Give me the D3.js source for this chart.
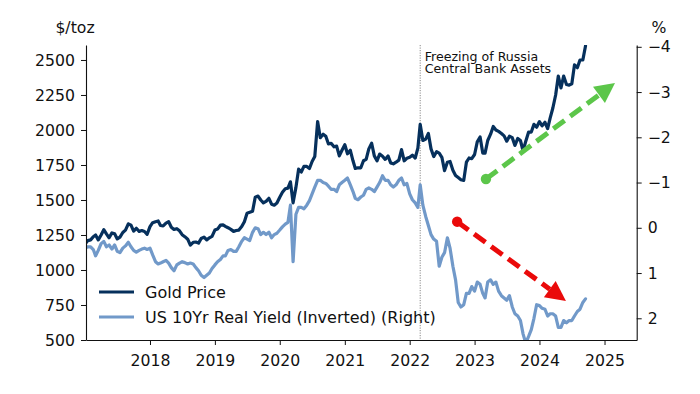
<!DOCTYPE html>
<html>
<head>
<meta charset="utf-8">
<script src="https://cdn.jsdelivr.net/npm/d3@7"></script>
<style>
  html, body { margin: 0; padding: 0; background: #fff; }
  svg { display: block; font-family: "DejaVu Sans", sans-serif; }
</style>
</head>
<body>
<div id="chart"></div>
<script>
// gold price, $/toz, sampled on the 1st and 16th of each month, Jan 2017 - Sep 2024
const gold = [
  1185,1210, 1215,1238, 1250,1215, 1250,1288, 1258,1230, 1265,1258, 1222,1235, 1268,1285, 1330,1320, 1278,1298, 1276,1282, 1275,1255,
  1310,1338, 1345,1350, 1318,1315, 1335,1345, 1305,1290, 1295,1280, 1252,1238, 1220,1178, 1198,1200, 1192,1225, 1235,1215, 1230,1240,
  1285,1292, 1320,1322, 1312,1302, 1290,1276, 1282,1285, 1310,1345, 1405,1412, 1420,1520, 1528,1500, 1480,1490, 1512,1470, 1463,1478,
  1520,1555, 1580,1585, 1630,1480, 1590,1720, 1700,1740, 1740,1725, 1775,1810, 2060,1945, 1970,1955, 1900,1905, 1880,1885, 1815,1855,
  1895,1830, 1855,1780, 1725,1730, 1730,1780, 1790,1865, 1905,1815, 1780,1828, 1812,1790, 1815,1765, 1758,1770, 1785,1860, 1780,1798,
  1805,1820, 1800,1870, 2040,1925, 1935,1975, 1865,1810, 1845,1835, 1805,1710, 1770,1775, 1712,1675, 1660,1645, 1640,1770, 1800,1795,
  1825,1915, 1950,1835, 1835,1925, 1970,2025, 2000,1990, 1975,1958, 1920,1955, 1945,1890, 1940,1925, 1850,1920, 1985,1985, 2040,2020,
  2060,2030, 2055,2010, 2085,2155, 2250,2385, 2300,2385, 2325,2320, 2330,2465, 2445,2500, 2500,2600
];

// US 10yr real yield, %, same dates
const realYield = [
  0.45,0.42, 0.42,0.48, 0.62,0.50, 0.35,0.30, 0.42,0.38, 0.47,0.38, 0.52,0.55, 0.45,0.40, 0.32,0.42, 0.50,0.54, 0.50,0.47, 0.45,0.48,
  0.45,0.60, 0.75,0.80, 0.78,0.75, 0.72,0.78, 0.88,0.95, 0.82,0.78, 0.75,0.77, 0.80,0.78, 0.80,0.88, 0.95,1.05, 1.10,1.05, 1.00,0.90,
  0.82,0.75, 0.70,0.62, 0.62,0.50, 0.48,0.52, 0.52,0.42, 0.30,0.22, 0.25,0.28, 0.10,0.00, 0.02,0.15, 0.10,0.15, 0.10,0.22, 0.15,0.12,
  0.05,-0.02, -0.08,-0.12, -0.50,0.75, -0.30,-0.45, -0.45,-0.42, -0.50,-0.60, -0.75,-0.90, -1.05,-1.05, -1.00,-0.98, -0.92,-0.85, -0.85,-0.80, -0.95,-1.00,
  -1.05,-1.10, -0.95,-0.80, -0.65,-0.62, -0.68,-0.72, -0.85,-0.88, -0.85,-0.80, -0.90,-1.00, -1.15,-1.05, -1.05,-0.95, -0.90,-0.95, -1.05,-1.10, -0.95,-0.98,
  -0.75,-0.62, -0.55,-0.45, -0.95,-0.50, -0.25,-0.05, 0.15,0.25, 0.30,0.85, 0.65,0.55, 0.22,0.45, 0.85,1.15, 1.65,1.75, 1.70,1.45, 1.45,1.30,
  1.40,1.20, 1.25,1.45, 1.55,1.20, 1.15,1.25, 1.20,1.40, 1.50,1.55, 1.60,1.50, 1.75,1.90, 1.95,2.05, 2.35,2.55, 2.40,2.25, 2.00,1.70,
  1.72,1.78, 1.80,1.95, 1.90,1.90, 1.95,2.20, 2.20,2.05, 2.10,2.05, 2.05,1.95, 1.85,1.80, 1.65,1.57
];

const seriesNames = ['Gold Price', 'US 10Yr Real Yield (Inverted) (Right)'];
const leftTicks = [500, 750, 1000, 1250, 1500, 1750, 2000, 2250, 2500];
const rightTicks = [-4, -3, -2, -1, 0, 1, 2];
const eventDate = '2022-03-01';
const eventLabel = ['Freezing of Russia', 'Central Bank Assets'];
// arrows in [date, gold price] coordinates
const greenArrow = [['2023-03-06', 1650], ['2025-03-01', 2336]];
const redArrow = [['2022-09-25', 1345], ['2024-05-29', 779]];

const width = 700, height = 394;
const margin = { top: 45, right: 63.3, bottom: 54, left: 86 };
const navy = '#06305c', lightBlue = '#7199c9';

const parse = d3.utcParse('%Y-%m-%d');
const dates = [];
for (let y = 2017; y <= 2024; y++)
  for (let m = 0; m < 12; m++)
    for (const day of [1, 16])
      if (dates.length < gold.length) dates.push(new Date(Date.UTC(y, m, day)));

const x = d3.scaleUtc()
  .domain([parse('2017-01-06'), parse('2025-07-01')])
  .range([margin.left, width - margin.right]);
const yLeft = d3.scaleLinear().domain([500, 2607]).range([height - margin.bottom, margin.top]);
const yRight = d3.scaleLinear().domain([2.48, -4.04]).range([height - margin.bottom, margin.top]);

const svg = d3.select('#chart').append('svg')
  .attr('width', width).attr('height', height)
  .attr('viewBox', `0 0 ${width} ${height}`);

svg.append('defs').append('clipPath').attr('id', 'plot')
  .append('rect')
  .attr('x', margin.left).attr('y', margin.top)
  .attr('width', width - margin.left - margin.right)
  .attr('height', height - margin.top - margin.bottom);

// event marker
const ex = x(parse(eventDate));
svg.append('line')
  .attr('x1', ex).attr('x2', ex)
  .attr('y1', margin.top).attr('y2', height - margin.bottom)
  .attr('stroke', '#888').attr('stroke-width', 1)
  .attr('stroke-dasharray', '1.2,1.3');

svg.append('text')
  .attr('x', ex + 4.5).attr('y', 60.5)
  .attr('font-size', 12.6).attr('fill', '#111')
  .selectAll('tspan').data(eventLabel).enter()
  .append('tspan')
  .attr('x', ex + 4.5)
  .attr('dy', (d, i) => i === 0 ? 0 : 12.8)
  .text(d => d);

// series
const lines = svg.append('g').attr('clip-path', 'url(#plot)');
lines.append('path')
  .datum(gold)
  .attr('fill', 'none').attr('stroke', navy).attr('stroke-width', 3.2)
  .attr('stroke-linejoin', 'round').attr('stroke-linecap', 'round')
  .attr('d', d3.line().x((d, i) => x(dates[i])).y(d => yLeft(d)));
lines.append('path')
  .datum(realYield)
  .attr('fill', 'none').attr('stroke', lightBlue).attr('stroke-width', 3.2)
  .attr('stroke-linejoin', 'round').attr('stroke-linecap', 'round')
  .attr('d', d3.line().x((d, i) => x(dates[i])).y(d => yRight(d)));

// axes
const fontSize = 15.7;
const axisBottom = svg.append('g')
  .attr('transform', `translate(0,${height - margin.bottom})`)
  .call(d3.axisBottom(x).ticks(d3.utcYear.every(1)).tickFormat(d3.utcFormat('%Y')).tickSize(5).tickPadding(5).tickSizeOuter(0));
const axisLeft = svg.append('g')
  .attr('transform', `translate(${margin.left},0)`)
  .call(d3.axisLeft(yLeft).tickValues(leftTicks).tickFormat(d3.format('d')).tickSize(5).tickPadding(6).tickSizeOuter(0));
const axisRight = svg.append('g')
  .attr('transform', `translate(${width - margin.right},0)`)
  .call(d3.axisRight(yRight).tickValues(rightTicks).tickFormat(d3.format('d')).tickSize(5).tickPadding(6).tickSizeOuter(0));

[axisBottom, axisLeft, axisRight].forEach(g => {
  g.selectAll('text').attr('font-size', fontSize).attr('fill', '#111').attr('font-family', '"DejaVu Sans", sans-serif');
  g.selectAll('line').attr('stroke', '#111').attr('stroke-width', 1);
  g.select('.domain').attr('stroke', '#111').attr('stroke-width', 1.1);
});
axisBottom.selectAll('text').attr('dy', '1em');

svg.append('text').attr('x', 75).attr('y', 33)
  .attr('text-anchor', 'middle').attr('font-size', fontSize).attr('fill', '#111')
  .text('$/toz');
svg.append('text').attr('x', 659).attr('y', 33)
  .attr('text-anchor', 'middle').attr('font-size', fontSize).attr('fill', '#111')
  .text('%');

// legend
const legend = svg.append('g')
  .selectAll('g').data(seriesNames).enter()
  .append('g')
  .attr('transform', (d, i) => `translate(99,${292 + i * 25})`);
legend.append('line')
  .attr('x1', 0).attr('x2', 35)
  .attr('stroke', (d, i) => i === 0 ? navy : lightBlue)
  .attr('stroke-width', 3.2);
legend.append('text')
  .attr('x', 46).attr('y', 5.7)
  .attr('font-size', 16).attr('fill', '#111')
  .text(d => d);

// trend arrows
function drawArrow(pts, color) {
  const p0 = [x(parse(pts[0][0])), yLeft(pts[0][1])];
  const p1 = [x(parse(pts[1][0])), yLeft(pts[1][1])];
  const dx = p1[0] - p0[0], dy = p1[1] - p0[1];
  const len = Math.hypot(dx, dy);
  const ux = dx / len, uy = dy / len;
  const headLen = 20, headHalf = 10;
  const base = [p1[0] - headLen * ux, p1[1] - headLen * uy];
  const g = svg.append('g');
  g.append('line')
    .attr('x1', p0[0]).attr('y1', p0[1])
    .attr('x2', base[0]).attr('y2', base[1])
    .attr('stroke', color).attr('stroke-width', 5)
    .attr('stroke-dasharray', '14,7');
  g.append('circle')
    .attr('cx', p0[0]).attr('cy', p0[1]).attr('r', 5.2)
    .attr('fill', color);
  g.append('polygon')
    .attr('points', [
      p1,
      [base[0] - headHalf * uy, base[1] + headHalf * ux],
      [base[0] + headHalf * uy, base[1] - headHalf * ux]
    ].map(p => p.join(',')).join(' '))
    .attr('fill', color);
}
drawArrow(greenArrow, '#5cc64a');
drawArrow(redArrow, '#ea0a0a');
</script>
</body>
</html>
